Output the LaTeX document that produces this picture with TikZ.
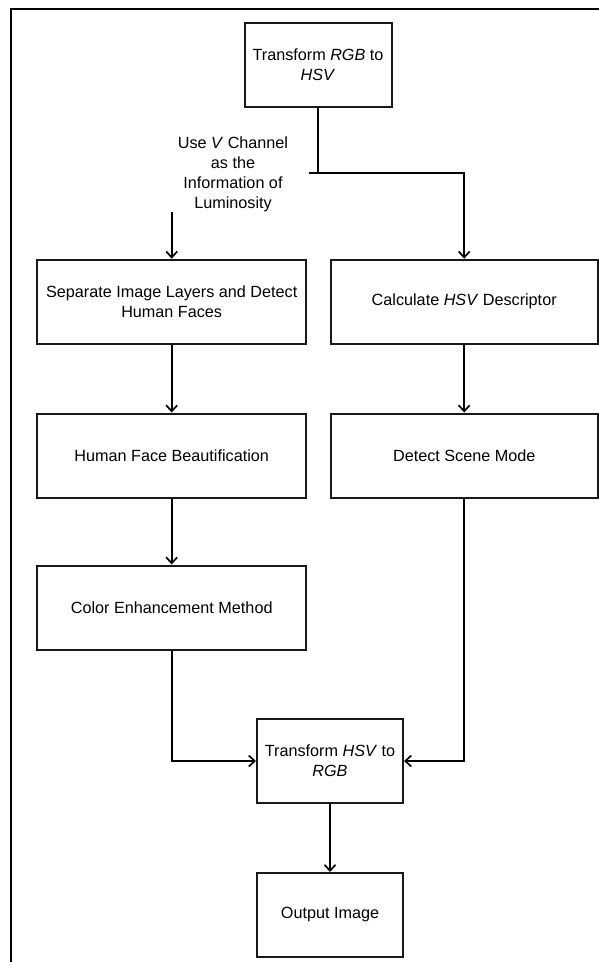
\documentclass[tikz,border=0pt]{standalone}
\usepackage{fontspec}
\setmainfont{Liberation Sans}
\usetikzlibrary{arrows.meta}
\begin{document}
\begin{tikzpicture}[x=1pt,y=-1pt,
  every node/.style={font=\fontsize{16.2}{20}\selectfont, text=black},
  box/.style={draw=black!90, line width=2pt, align=center, inner sep=0pt, minimum height=84pt},
  lbox/.style={box, minimum width=268.7pt},
  sbox/.style={box, minimum width=147pt},
  conn/.style={line width=2pt, draw=black},
  arr/.style={conn, -{Straight Barb[length=6pt,width=11pt,line width=1.7pt]}},
  frame/.style={line width=2.4pt, draw=black}]
\useasboundingbox (0,0) rectangle (599,962);
\draw[frame] (11,964) -- (11,8.7) -- (601,8.7);

\node[sbox] (top) at (318,64.7) {Transform \textit{RGB} to\\\textit{HSV}};
\node[align=center, inner sep=0pt] (lbl) at (233,174) {Use \textit{V} Channel\\as the\\Information of\\Luminosity};
\node[lbox] (sep) at (171.7,301.7) {Separate Image Layers and Detect\\Human Faces};
\node[lbox, minimum width=267pt] (calc) at (464.2,301.7) {Calculate \textit{HSV} Descriptor};
\node[lbox] (beaut) at (171.7,455.5) {Human Face Beautification};
\node[lbox, minimum width=267pt] (scene) at (464.2,455.5) {Detect Scene Mode};
\node[lbox] (color) at (171.7,607.5) {Color Enhancement Method};
\node[sbox, minimum width=146pt] (back) at (330,761) {Transform \textit{HSV} to\\\textit{RGB}};
\node[sbox, minimum width=146pt] (out) at (330,915) {Output Image};

\coordinate (j) at (318,172.7);
\coordinate (jl) at (309.3,172.7);
\coordinate (la) at (171.7,212.3);

\draw[conn] (top.south) -- (j);
\draw[arr] (jl) -| (calc.north);
\draw[arr] (la) -- (sep.north);
\draw[arr] (sep.south) -- (beaut.north);
\draw[arr] (beaut.south) -- (color.north);
\draw[arr] (calc.south) -- (scene.north);
\draw[arr] (color.south) |- (back.west);
\draw[arr] (scene.south) |- (back.east);
\draw[arr] (back.south) -- (out.north);
\end{tikzpicture}
\end{document}
